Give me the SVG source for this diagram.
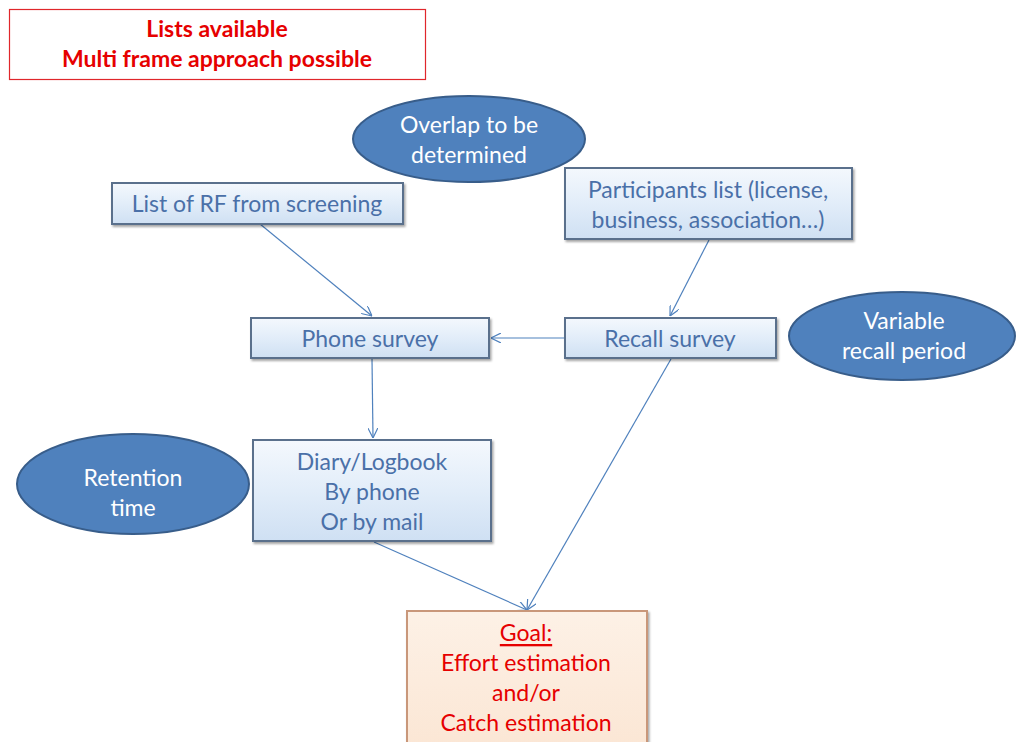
<svg xmlns="http://www.w3.org/2000/svg" width="1016" height="742" viewBox="0 0 1016 742">
<defs>
<linearGradient id="gb" x1="0" y1="0" x2="0" y2="1">
<stop offset="0" stop-color="#f4f8fd"/><stop offset="0.5" stop-color="#e2edf9"/><stop offset="1" stop-color="#cfe0f3"/>
</linearGradient>
<linearGradient id="go" x1="0" y1="0" x2="0" y2="1">
<stop offset="0" stop-color="#fdf1e6"/><stop offset="1" stop-color="#fbe6d4"/>
</linearGradient>
<filter id="sh" x="-10%" y="-10%" width="120%" height="130%">
<feDropShadow dx="1.5" dy="2" stdDeviation="1.2" flood-color="#000" flood-opacity="0.35"/>
</filter>
<marker id="ar" viewBox="0 0 10 10" refX="10" refY="5" markerWidth="10" markerHeight="10" markerUnits="userSpaceOnUse" orient="auto">
<path d="M0,0 L10,5 L0,10" fill="none" stroke="#4f81bd" stroke-width="1.2"/>
</marker>
<style>
.box{fill:url(#gb);stroke:#5a6f8c;stroke-width:2;filter:url(#sh)}
.ell{fill:#4f81bd;stroke:#385d8a;stroke-width:2}
.bt{font-family:Lato,"Open Sans",sans-serif;font-size:23px;fill:#4a70a8;text-anchor:middle;dominant-baseline:central}
.wt{font-family:Lato,"Open Sans",sans-serif;font-size:23px;fill:#ffffff;text-anchor:middle;dominant-baseline:central}
.rt{font-family:Lato,"Open Sans",sans-serif;font-size:23px;fill:#e60000;text-anchor:middle;dominant-baseline:central}
.cn{fill:none;stroke:#4f81bd;stroke-width:1.2;marker-end:url(#ar)}
</style>
</defs>
<rect width="1016" height="742" fill="#ffffff"/>
<g id="header">
<rect x="9.5" y="9.5" width="416" height="70" fill="#ffffff" stroke="#e0262b" stroke-width="1.2"/>
<text class="rt" x="217" y="28" font-weight="bold" font-size="23.5">Lists available</text>
<text class="rt" x="217" y="58" font-weight="bold" font-size="23.5">Multi frame approach possible</text>
</g>
<g id="connectors">
<line class="cn" x1="260" y1="224" x2="372" y2="316"/>
<line class="cn" x1="709" y1="240" x2="670" y2="316"/>
<line class="cn" x1="565" y1="338" x2="491" y2="338"/>
<line class="cn" x1="372" y1="359" x2="373" y2="438"/>
<line class="cn" x1="374" y1="542" x2="527" y2="610"/>
<line class="cn" x1="671" y1="359" x2="527" y2="610"/>
</g>
<g id="overlap">
<ellipse class="ell" cx="469" cy="139" rx="116" ry="43"/>
<text class="wt" x="469" y="124">Overlap to be</text>
<text class="wt" x="469" y="154">determined</text>
</g>
<g id="listRF">
<rect class="box" x="112" y="183" width="291" height="41"/>
<text class="bt" x="257" y="203">List of RF from screening</text>
</g>
<g id="participants">
<rect class="box" x="565" y="168" width="287" height="71"/>
<text class="bt" x="708" y="189">Participants list (license,</text>
<text class="bt" x="708" y="219">business, association…)</text>
</g>
<g id="phone">
<rect class="box" x="251" y="318" width="238" height="40"/>
<text class="bt" x="370" y="338">Phone survey</text>
</g>
<g id="recall">
<rect class="box" x="565" y="318" width="211" height="40"/>
<text class="bt" x="670" y="338">Recall survey</text>
</g>
<g id="variable">
<ellipse class="ell" cx="902" cy="336" rx="113" ry="44"/>
<text class="wt" x="904" y="320">Variable</text>
<text class="wt" x="904" y="350">recall period</text>
</g>
<g id="diary">
<rect class="box" x="253" y="440" width="238" height="101"/>
<text class="bt" x="372" y="461">Diary/Logbook</text>
<text class="bt" x="372" y="491">By phone</text>
<text class="bt" x="372" y="521">Or by mail</text>
</g>
<g id="retention">
<ellipse class="ell" cx="133" cy="484" rx="116" ry="50"/>
<text class="wt" x="133" y="477">Retention</text>
<text class="wt" x="133" y="507">time</text>
</g>
<g id="goal">
<rect x="407" y="611" width="240" height="140" fill="url(#go)" stroke="#c9977a" stroke-width="2" filter="url(#sh)"/>
<text class="rt" x="526" y="632" text-decoration="underline">Goal:</text>
<text class="rt" x="526" y="662">Effort estimation</text>
<text class="rt" x="526" y="692">and/or</text>
<text class="rt" x="526" y="722">Catch estimation</text>
</g>
</svg>
